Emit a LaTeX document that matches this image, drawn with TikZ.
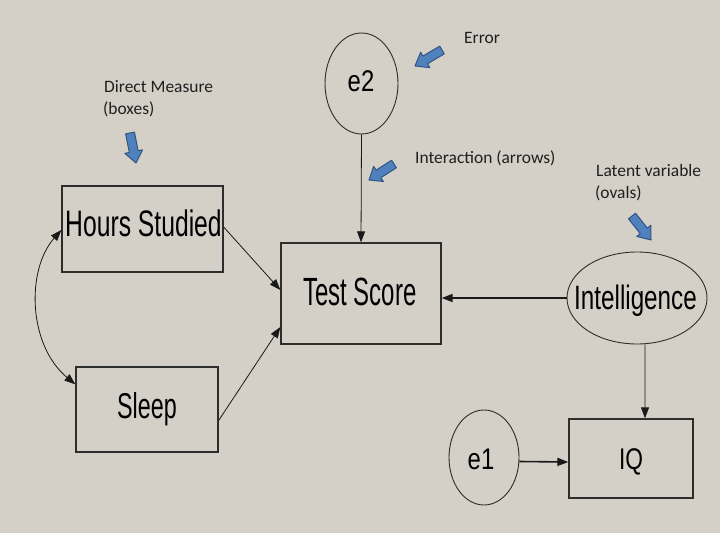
\documentclass[tikz,border=0pt]{standalone}
\usepackage{fontspec}
\usepackage{graphicx}
\setmainfont{Liberation Sans}
\newfontfamily\notefont{Carlito}
\usetikzlibrary{shapes.geometric,arrows.meta,calc}
\definecolor{bg}{RGB}{212,208,200}
\definecolor{arrfill}{RGB}{79,129,189}
\definecolor{arrline}{RGB}{50,85,130}
\definecolor{edge}{RGB}{45,45,45}
\newcommand{\narrowlab}[3]{{\fontsize{#1}{#1}\selectfont\scalebox{#2}[1]{#3}}}
\tikzset{
  boxnode/.style={draw=edge, line width=1.3bp, inner sep=0pt},
  ovalnode/.style={ellipse, draw=edge, line width=0.9bp, inner sep=0pt},
  lab/.style={anchor=base, inner sep=0pt, text=black},
  note/.style={font=\notefont\fontsize{17.5}{22}\selectfont, text=black!88, anchor=base west, inner sep=0pt},
  tip/.style={Triangle[length=11bp,width=8bp]},
  conn/.style={draw=black!90, line width=0.8bp, -{Triangle[length=11bp,width=8bp]}},
  bluearr/.style={fill=arrfill, draw=arrline, line width=1bp, line join=round}
}
\newcommand{\bluearrow}[2]{%
  \coordinate (#1n) at ($(#1)!0.62!(#2)$);
  \filldraw[bluearr] ($(#1)!4.5bp!90:(#2)$) -- ($(#1n)!4.5bp!90:(#2)$) -- ($(#1n)!9bp!90:(#2)$) -- (#2)
    -- ($(#1n)!9bp!-90:(#2)$) -- ($(#1n)!4.5bp!-90:(#2)$) -- ($(#1)!4.5bp!-90:(#2)$) -- cycle;}
\begin{document}
\begin{tikzpicture}[x=1bp,y=-1bp]
\useasboundingbox (0,0) rectangle (720,540);
\fill[bg] (0,0) rectangle (720,533);
\fill[white] (0,533) rectangle (720,540);

% shapes
\node[boxnode, minimum width=161bp, minimum height=86bp] (hs) at (142.5,229) {};
\node[boxnode, minimum width=160bp, minimum height=101bp] (ts) at (361,293.5) {};
\node[boxnode, minimum width=142bp, minimum height=85bp] (sl) at (147,409.5) {};
\node[boxnode, minimum width=124bp, minimum height=79bp] (iq) at (631,458.5) {};
\node[ovalnode, minimum width=73bp, minimum height=101bp] (e2) at (361.5,83.5) {};
\node[ovalnode, minimum width=140bp, minimum height=92bp] (int) at (637,298) {};
\node[ovalnode, minimum width=70bp, minimum height=95bp] (e1) at (484,457.5) {};

% labels
\node[lab] (hsl) at (143.5,237) {\narrowlab{37}{0.67}{Hours Studied}};
\node[lab] (tsl) at (360,305) {\narrowlab{39.5}{0.61}{Test Score}};
\node[lab] (sll) at (147,418) {\narrowlab{36}{0.65}{Sleep}};
\node[lab] (intl) at (635.5,309) {\narrowlab{34}{0.715}{Intelligence}};
\node[lab] (e2l) at (361,92) {\narrowlab{30}{0.8}{e2}};
\node[lab] (e1l) at (481,469) {\narrowlab{30}{0.8}{e1}};
\node[lab] (iql) at (631,469) {\narrowlab{30}{0.76}{IQ}};

% connectors
\draw[conn] (e2.south) -- (ts.north);
\draw[conn] ([yshift=2bp]hs.east) -- ([yshift=3.5bp]ts.west);
\draw[conn] ([yshift=-11bp]sl.east) -- ([yshift=-33.5bp]ts.west);
\draw[conn, line width=1.6bp] (int.west) -- (int.west -| ts.east);
\draw[conn] ([xshift=8bp]int.south) -- ([xshift=14bp]iq.north);
\draw[conn, line width=1.6bp] ([yshift=-4bp]e1.east) -- ([yshift=-3.5bp]iq.west);
\draw[draw=black!90, line width=0.8bp, {Triangle[length=11bp,width=8bp]}-{Triangle[length=11bp,width=8bp]}]
  ([yshift=-1bp]hs.west) .. controls (26,270) and (28,345) .. ([yshift=-18bp]sl.north west);

% annotations
\node[note] (tErr) at (464,44) {Error};
\node[note] (tDir) at (104,93) {Direct Measure};
\node[note] (tBox) at (103,115) {(boxes)};
\node[note] (tInt) at (415,164) {Interaction (arrows)};
\node[note] (tLat) at (596,177) {Latent variable};
\node[note] (tOva) at (595,199) {(ovals)};

% blue block arrows
\coordinate (aE) at (442,50); \coordinate (bE) at (415,66);
\coordinate (aD) at (130,133); \coordinate (bD) at (136,163);
\coordinate (aI) at (394,164); \coordinate (bI) at (369,180);
\coordinate (aL) at (632,216); \coordinate (bL) at (651,240);
\bluearrow{aE}{bE}
\bluearrow{aD}{bD}
\bluearrow{aI}{bI}
\bluearrow{aL}{bL}
\end{tikzpicture}
\end{document}
